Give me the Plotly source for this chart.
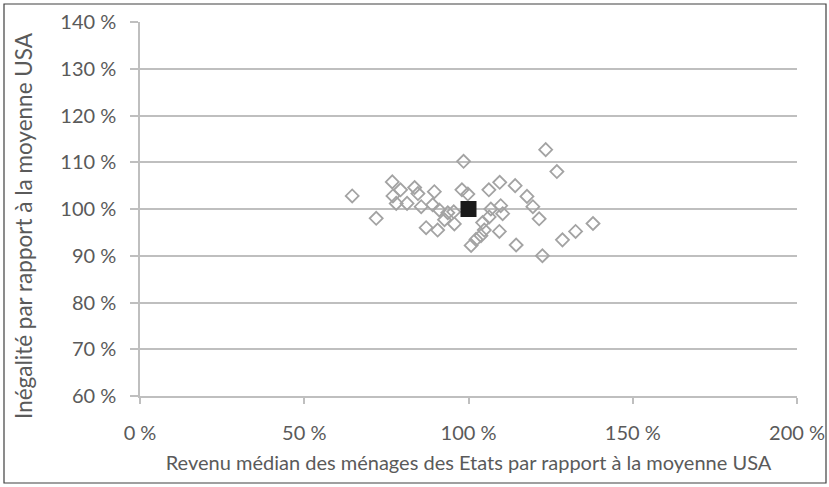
import plotly.graph_objects as go

# State data: median household income vs USA (%), inequality vs USA (%)
income = [64.6, 71.9, 76.8, 77.0, 78.0, 79.3, 81.3, 83.6, 84.6, 85.6,
          89.6, 89.1, 87.1, 90.6, 91.1, 92.7, 93.7, 95.7, 95.5, 98.5,
          98.0, 99.8, 100.8, 102.3, 103.8, 104.3, 104.8, 106.3, 106.8, 106.2,
          109.5, 109.4, 109.8, 110.4, 114.2, 114.5, 117.8, 119.6, 121.5, 122.5,
          123.5, 126.9, 128.6, 132.6, 137.9]
inequality = [102.8, 98.0, 105.8, 102.8, 101.2, 104.1, 101.2, 104.6, 103.3, 100.5,
              103.7, 100.9, 96.0, 95.5, 99.8, 97.7, 99.2, 96.8, 99.4, 110.2,
              104.1, 103.2, 92.2, 93.5, 94.3, 97.1, 95.5, 98.3, 100.0, 104.1,
              105.7, 95.2, 100.7, 99.0, 105.0, 92.3, 102.7, 100.5, 97.9, 90.0,
              112.7, 108.0, 93.4, 95.2, 96.9]
usa_x = [100]
usa_y = [100]

x_ticks = [0, 50, 100, 150, 200]
y_ticks = [60, 70, 80, 90, 100, 110, 120, 130, 140]
x_ticktext = [f"{v} %" for v in x_ticks]
y_ticktext = [f"{v} %" for v in y_ticks]

x_title = "Revenu médian des ménages des Etats par rapport à la moyenne USA"
y_title = "Inégalité par rapport à la moyenne USA"

font_family = "Lato, 'Open Sans', sans-serif"
text_color = "#5a5a5a"
grid_color = "#bfbfbf"

W, H = 829, 487
L, R, T, B = 140, 32, 22, 91
pw, ph = W - L - R, H - T - B

fig = go.Figure()
fig.add_trace(go.Scatter(
    x=income, y=inequality, mode="markers",
    marker=dict(symbol="diamond-open", size=10, color="#a3a3a3",
                line=dict(width=1.8, color="#a3a3a3")),
    showlegend=False, hoverinfo="x+y"))
fig.add_trace(go.Scatter(
    x=usa_x, y=usa_y, mode="markers",
    marker=dict(symbol="square", size=16, color="#1a1a1a",
                line=dict(width=0)),
    showlegend=False))

fig.update_layout(
    width=W, height=H, autosize=False,
    margin=dict(l=L, r=R, t=T, b=B, autoexpand=False),
    paper_bgcolor="white", plot_bgcolor="white",
    font=dict(family=font_family, size=20, color=text_color),
    xaxis=dict(range=[0, 200], tickmode="array", tickvals=x_ticks, ticktext=x_ticktext,
               showgrid=False, zeroline=False, automargin=False,
               ticks="outside", ticklen=6, tickcolor=grid_color, tickwidth=1.5,
               ticklabelstandoff=12,
               showline=True, linecolor=grid_color, linewidth=1.5,
               title=dict(text=x_title, font=dict(size=20, color=text_color), standoff=13),
               tickfont=dict(size=20, color=text_color)),
    yaxis=dict(range=[60, 140], tickmode="array", tickvals=y_ticks, ticktext=y_ticktext,
               showgrid=True, gridcolor=grid_color, gridwidth=1.5,
               zeroline=False, automargin=False,
               ticks="outside", ticklen=8, tickcolor=grid_color, tickwidth=1.5,
               ticklabelstandoff=10,
               showline=True, linecolor=grid_color, linewidth=1.5,
               tickfont=dict(size=20, color=text_color)),
    annotations=[dict(text=y_title, textangle=-90, showarrow=False,
                      xref="paper", yref="paper",
                      x=(24 - L) / pw, y=(H - B - 226) / ph,
                      xanchor="center", yanchor="middle",
                      font=dict(size=22.5, color=text_color))],
    shapes=[dict(type="rect", xref="paper", yref="paper",
                 x0=(4 - L) / pw, x1=(826 - L) / pw,
                 y0=(H - B - 483) / ph, y1=(H - B - 4) / ph,
                 line=dict(color="#404040", width=1.2), fillcolor="rgba(0,0,0,0)",
                 layer="above")],
)

fig.write_html("out.html",
               config={"displayModeBar": False, "responsive": False},
               post_script="document.body.style.margin='0';document.body.style.padding='0';")
